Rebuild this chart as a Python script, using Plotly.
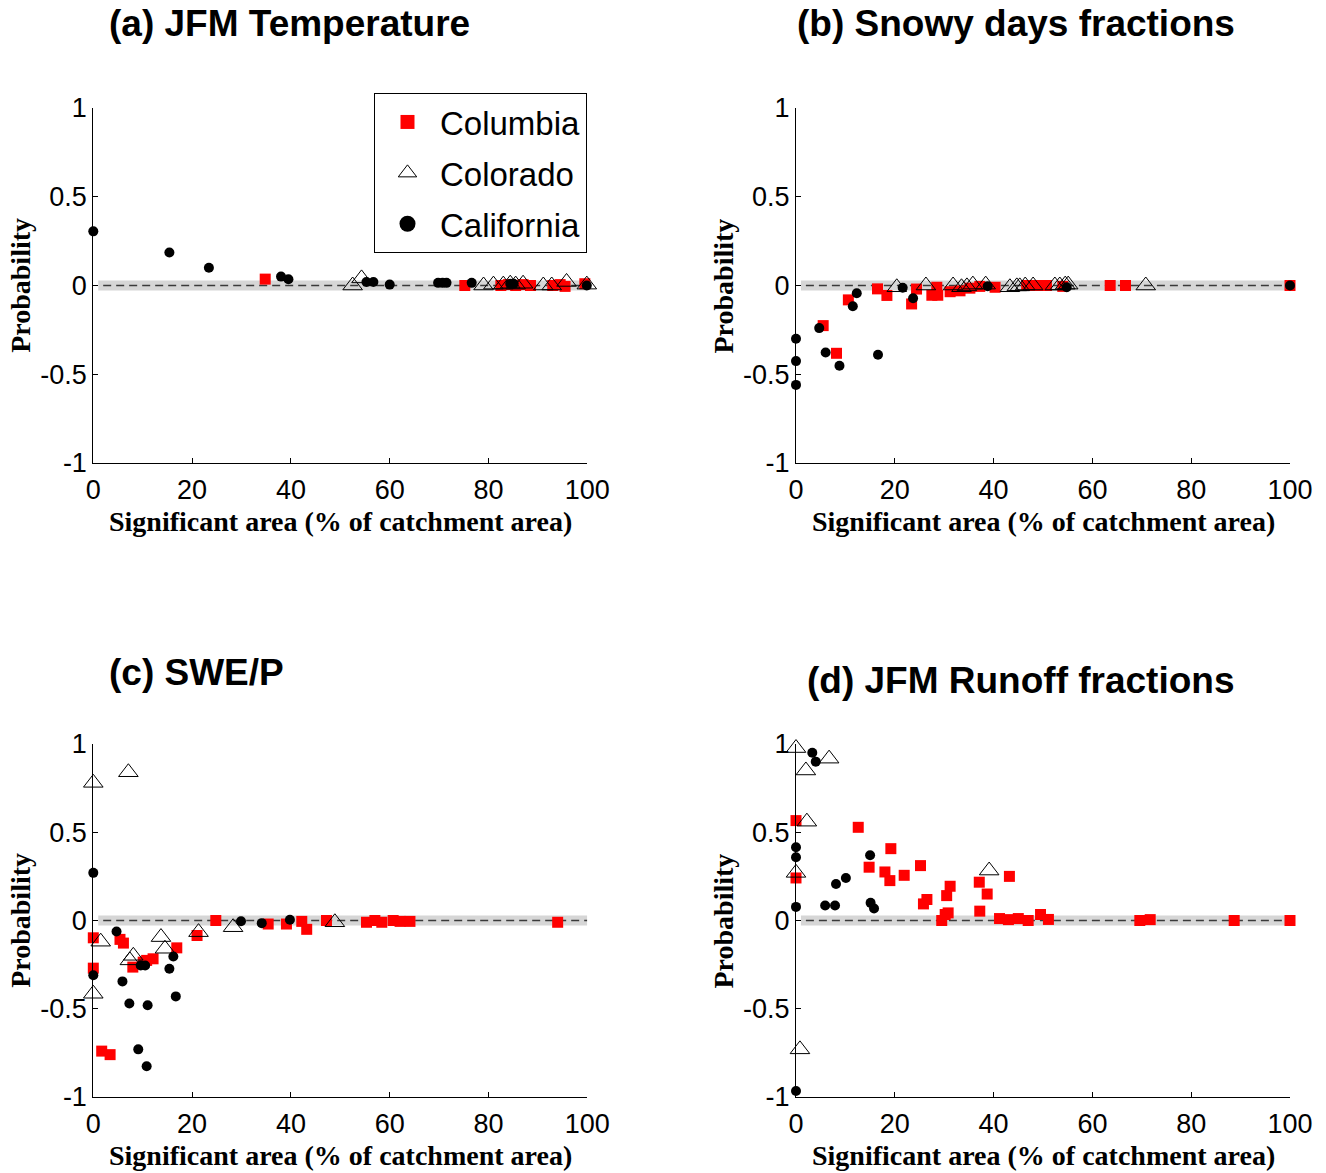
import plotly.graph_objects as go

# ---------------- data ----------------
# Panel (a) JFM Temperature
a_col_x = [34.8, 75.2, 82.5, 84.0, 85.5, 87.0, 88.5, 93.0, 94.5, 95.5, 99.5]
a_col_y = [0.036, 0.0, 0.0, 0.005, 0.0, 0.005, 0.0, 0.0, 0.005, -0.005, 0.01]
a_cor_x = [52.5, 54.3, 79.0, 81.0, 83.0, 84.4, 85.5, 87.0, 91.1, 92.8, 95.8, 99.9]
a_cor_y = [0.0, 0.04, 0.0, 0.005, 0.005, 0.01, 0.005, 0.01, 0.0, 0.0, 0.02, 0.005]
a_cal_x = [0.0, 15.4, 23.4, 38.0, 39.5, 55.3, 56.7, 60.0, 69.8, 70.7, 71.5, 76.6, 84.4, 85.1, 99.9]
a_cal_y = [0.305, 0.186, 0.10, 0.05, 0.035, 0.02, 0.02, 0.005, 0.015, 0.015, 0.015, 0.015, 0.01, 0.01, 0.0]

# Panel (b) Snowy days fractions
b_col_x = [5.5, 8.2, 10.6, 16.5, 18.4, 23.4, 24.4, 27.5, 28.5, 28.7, 31.2, 33.2, 35.2, 37.2,
           40.3, 46.7, 48.0, 49.5, 50.7, 54.0, 63.6, 66.7, 100.0]
b_col_y = [-0.226, -0.382, -0.081, -0.019, -0.056, -0.104, -0.02, -0.055, -0.01, -0.055, -0.035,
           -0.03, -0.015, -0.005, -0.01, 0.0, 0.0, 0.0, 0.0, -0.005, 0.0, 0.0, 0.0]
b_cor_x = [20.4, 26.3, 31.8, 33.5, 34.6, 35.8, 38.4, 43.3, 44.7, 45.3, 46.4, 48.0, 52.4, 53.4, 54.5, 55.1, 70.8]
b_cor_y = [-0.01, 0.0, 0.0, -0.01, -0.005, 0.005, 0.005, -0.01, -0.005, -0.005, 0.0, 0.0,
           0.0, 0.0, 0.005, 0.005, 0.0]
b_cal_x = [0.0, 0.0, 0.0, 4.7, 6.0, 8.8, 11.5, 12.3, 16.6, 21.6, 23.7, 38.8, 54.8, 100.0]
b_cal_y = [-0.30, -0.426, -0.56, -0.24, -0.377, -0.452, -0.117, -0.044, -0.39, -0.013, -0.072,
           -0.004, -0.01, 0.0]

# Panel (c) SWE/P
c_col_x = [0.0, 0.0, 1.7, 3.4, 5.4, 6.1, 8.0, 10.1, 10.8, 12.1, 16.9, 21.0, 24.8, 35.4, 39.1,
           42.2, 43.2, 47.2, 55.3, 57.0, 58.4, 60.7, 62.1, 64.1, 94.0]
c_col_y = [-0.098, -0.27, -0.74, -0.76, -0.107, -0.128, -0.264, -0.236, -0.226, -0.217, -0.155,
           -0.085, 0.0, -0.02, -0.02, -0.005, -0.05, 0.0, -0.01, 0.0, -0.01, 0.0, -0.005, -0.005, -0.01]
c_cor_x = [0.0, 7.1, 1.5, 0.0, 13.7, 14.5, 7.4, 8.1, 21.3, 28.3, 48.9]
c_cor_y = [0.78, 0.84, -0.12, -0.415, -0.094, -0.16, -0.226, -0.20, -0.066, -0.038, -0.01]
c_cal_x = [0.0, 0.0, 4.7, 5.9, 7.3, 9.1, 10.8, 11.0, 10.5, 9.6, 15.4, 16.2, 16.7, 29.9, 34.1, 39.8]
c_cal_y = [0.27, -0.31, -0.062, -0.345, -0.47, -0.73, -0.826, -0.48, -0.255, -0.255, -0.273,
           -0.204, -0.43, -0.004, -0.015, 0.004]

# Panel (d) JFM Runoff fractions
d_col_x = [0.0, 0.0, 12.6, 14.8, 18.0, 19.0, 19.2, 21.9, 25.2, 25.8, 26.5, 29.5, 30.2, 30.8,
           30.5, 31.2, 37.1, 38.7, 37.2, 43.2, 41.2, 43.0, 45.0, 47.0, 49.5, 51.1, 69.6, 71.7, 88.7, 100.0]
d_col_y = [0.566, 0.241, 0.528, 0.302, 0.275, 0.226, 0.407, 0.256, 0.311, 0.094, 0.119, 0.0,
           0.034, 0.043, 0.141, 0.194, 0.217, 0.15, 0.053, 0.25, 0.011, 0.005, 0.011, 0.0, 0.034,
           0.006, 0.0, 0.005, 0.0, 0.0]
d_cor_x = [0.0, 2.0, 6.7, 17.0, 2.2, 0.0, 0.8, 39.1]
d_cor_y = [0.977, 0.85, 0.917, 1.01, 0.56, 0.27, -0.73, 0.283]
d_cal_x = [3.3, 4.0, 0.0, 0.0, 0.0, 0.0, 5.9, 7.9, 8.1, 10.1, 15.0, 15.1, 15.8]
d_cal_y = [0.95, 0.90, 0.415, 0.358, 0.077, -0.966, 0.085, 0.085, 0.207, 0.241, 0.37, 0.10, 0.068]

panel_titles = ["(a) JFM Temperature", "(b) Snowy days fractions", "(c) SWE/P", "(d) JFM Runoff fractions"]
series_names = ["Columbia", "Colorado", "California"]
x_tickvals = [0, 20, 40, 60, 80, 100]
x_ticktext = ["0", "20", "40", "60", "80", "100"]
y_tickvals = [-1, -0.5, 0, 0.5, 1]
y_ticktext = ["-1", "-0.5", "0", "0.5", "1"]
x_title = "Significant area (% of catchment area)"
y_title = "Probability"

panels = [
    (a_col_x, a_col_y, a_cor_x, a_cor_y, a_cal_x, a_cal_y),
    (b_col_x, b_col_y, b_cor_x, b_cor_y, b_cal_x, b_cal_y),
    (c_col_x, c_col_y, c_cor_x, c_cor_y, c_cal_x, c_cal_y),
    (d_col_x, d_col_y, d_cor_x, d_cor_y, d_cal_x, d_cal_y),
]

# ---------------- layout geometry (pixels) ----------------
W, H = 1326, 1173
px_x = [(93.3, 587.3), (796, 1290), (93.3, 587.3), (796, 1290)]
px_y = [(108, 463), (108, 463), (744, 1097), (744, 1097)]
title_pos = [(107, 23), (795, 23), (107, 672), (805, 680)]

styles = [
    dict(symbol="square", size=11, color="#ff0000", line=dict(width=0)),
    dict(symbol="triangle-up-open", size=17, color="black", line=dict(width=1)),
    dict(symbol="circle", size=10, color="black", line=dict(width=0)),
]
legend_styles = [
    dict(symbol="square", size=14, color="#ff0000", line=dict(width=0)),
    dict(symbol="triangle-up-open", size=16, color="black", line=dict(width=1)),
    dict(symbol="circle", size=16, color="black", line=dict(width=0)),
]
groups = ["col", "cor", "cal"]

fig = go.Figure()
layout = dict(
    width=W, height=H,
    margin=dict(l=0, r=0, t=0, b=0, autoexpand=False),
    paper_bgcolor="white", plot_bgcolor="white",
    showlegend=True,
    legend=dict(
        x=374 / W, y=1 - 93 / H, xanchor="left", yanchor="top",
        bgcolor="white", bordercolor="black", borderwidth=1,
        font=dict(family="Liberation Sans, Arial", size=33, color="black"),
        itemwidth=55, tracegroupgap=5, traceorder="grouped",
        entrywidth=160, entrywidthmode="pixels",
    ),
)
annotations = []
shapes = []
tick_font = dict(family="Liberation Sans, Arial", size=27, color="black")
lab_font = dict(family="Liberation Serif, Times New Roman", size=28, color="black")

for i, (cx, cy, rx, ry, kx, ky) in enumerate(panels):
    n = "" if i == 0 else str(i + 1)
    xa, ya = "x" + n, "y" + n
    (x0, x1), (y0, y1) = px_x[i], px_y[i]
    layout["xaxis" + n] = dict(
        domain=[x0 / W, x1 / W], range=[0, 100], anchor=ya, automargin=False,
        showline=True, linecolor="black", linewidth=1, mirror=False,
        ticks="inside", ticklen=5, tickcolor="black", ticklabelstandoff=3,
        tickvals=x_tickvals, ticktext=x_ticktext, tickfont=tick_font,
        showgrid=False, zeroline=False,
    )
    layout["yaxis" + n] = dict(
        domain=[1 - y1 / H, 1 - y0 / H], range=[-1, 1], anchor=xa, automargin=False,
        showline=True, linecolor="black", linewidth=1, mirror=False,
        ticks="inside", ticklen=5, tickcolor="black",
        tickvals=y_tickvals, ticktext=y_ticktext, tickfont=tick_font,
        showgrid=False, zeroline=False,
    )
    # grey band and dashed zero line
    shapes.append(dict(type="rect", xref=xa, yref=ya, x0=1, x1=100, y0=-0.028, y1=0.028,
                       fillcolor="#d6d6d6", line=dict(width=0), layer="below"))
    shapes.append(dict(type="line", xref=xa, yref=ya, x0=2, x1=100, y0=0, y1=0,
                       line=dict(color="#3a3a3a", width=1.5, dash="8px,5px"), layer="below"))
    for (sx, sy), st, nm, g in zip([(cx, cy), (rx, ry), (kx, ky)], styles, series_names, groups):
        fig.add_trace(go.Scatter(
            x=sx, y=sy, mode="markers", name=nm, legendgroup=g,
            showlegend=False, xaxis=xa, yaxis=ya, cliponaxis=False, marker=st,
        ))
    # titles
    tx, ty = title_pos[i]
    annotations.append(dict(text="<b>" + panel_titles[i] + "</b>", xref="paper", yref="paper",
                            x=tx / W, y=1 - ty / H, xanchor="left", yanchor="middle",
                            showarrow=False,
                            font=dict(family="Liberation Sans, Arial", size=37, color="black")))
    # axis titles
    annotations.append(dict(text="<b>" + x_title + "</b>", xref="paper", yref="paper",
                            x=(x0 + x1) / 2 / W, y=1 - (y1 + 58) / H, xanchor="center",
                            yanchor="middle", showarrow=False, font=lab_font))
    annotations.append(dict(text="<b>" + y_title + "</b>", xref="paper", yref="paper",
                            x=(x0 - 73) / W, y=1 - ((y0 + y1) / 2) / H, xanchor="center",
                            yanchor="middle", showarrow=False, textangle=-90, font=lab_font))

# legend entries (same styling as the series, larger symbols as in the reference legend)
for st, nm, g in zip(legend_styles, series_names, groups):
    fig.add_trace(go.Scatter(x=[None], y=[None], mode="markers", name=nm, legendgroup=g,
                             showlegend=True, marker=st))

layout["annotations"] = annotations
layout["shapes"] = shapes
fig.update_layout(**layout)
fig.write_html("out.html")
